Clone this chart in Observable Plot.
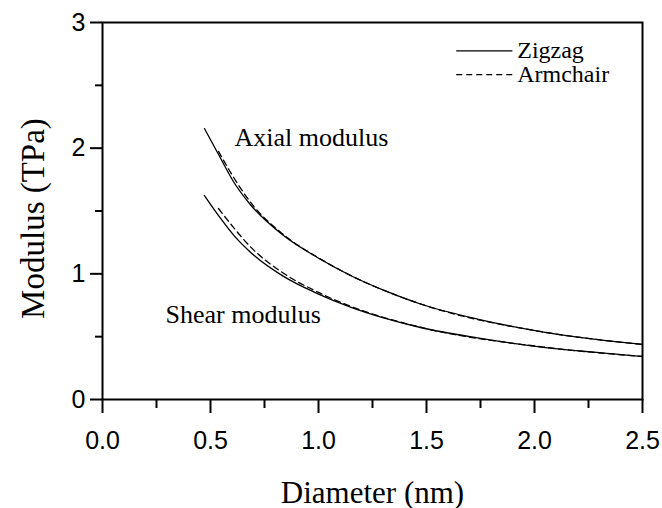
<!DOCTYPE html>
<html>
<head>
<meta charset="utf-8">
<script src="https://cdn.jsdelivr.net/npm/d3@7"></script>
<script src="https://cdn.jsdelivr.net/npm/@observablehq/plot@0.6"></script>
<style>
  html, body { margin: 0; padding: 0; background: #fff; }
  #chart g[aria-label$="tick label"] { font-size: 25px !important; font-family: "Liberation Sans", Arial, sans-serif !important; }
</style>
</head>
<body>
<div id="chart"></div>
<script>
// ---- data ----
const diameterZigzag = [0.472, 0.546, 0.606, 0.685, 0.838, 0.995, 1.148, 1.301, 1.472, 1.736, 2.042, 2.352, 2.5];
const axialZigzag    = [2.156, 1.922, 1.735, 1.550, 1.305, 1.130, 0.987, 0.870, 0.760, 0.640, 0.537, 0.465, 0.438];
const shearZigzag    = [1.623, 1.443, 1.310, 1.172, 0.980, 0.843, 0.735, 0.649, 0.573, 0.490, 0.415, 0.365, 0.342];

const diameterArmchair = [0.537, 0.606, 0.685, 0.838, 0.995, 1.148, 1.472, 2.042, 2.5];
const axialArmchair    = [1.975, 1.770, 1.570, 1.312, 1.132, 0.988, 0.761, 0.537, 0.438];
const shearArmchair    = [1.520, 1.370, 1.215, 1.005, 0.856, 0.742, 0.575, 0.417, 0.342];

const seriesNames = ["Zigzag", "Armchair"];
const curveLabels = ["Axial modulus", "Shear modulus"];
const xMajorTicks = [0, 0.5, 1.0, 1.5, 2.0, 2.5];
const xMinorTicks = [0.25, 0.75, 1.25, 1.75, 2.25];
const yMajorTicks = [0, 1, 2, 3];
const yMinorTicks = [0.5, 1.5, 2.5];
const xTitle = "Diameter (nm)";
const yTitle = "Modulus (TPa)";

// ---- tables built from the arrays ----
const rows = (ds, vs, series, kind) => ds.map((d, i) => ({d, v: vs[i], series, kind}));
const zz = [...rows(diameterZigzag, axialZigzag, "Zigzag", "Axial"), ...rows(diameterZigzag, shearZigzag, "Zigzag", "Shear")];
const ac = [...rows(diameterArmchair, axialArmchair, "Armchair", "Axial"), ...rows(diameterArmchair, shearArmchair, "Armchair", "Shear")];

// legend placement (in data units)
const legX1 = 1.64, legX2 = 1.90, legTextX = 1.92;
const legY = [2.775, 2.585];
const legend = seriesNames.map((s, i) => ({s, y: legY[i], dash: i === 0 ? null : "6,4"}));

const serif = "Liberation Serif, Times New Roman, serif";
const sans = "Liberation Sans, Arial, sans-serif";

const chart = Plot.plot({
  width: 662,
  height: 508,
  marginLeft: 102,
  marginRight: 20,
  marginTop: 22,
  marginBottom: 109,
  style: {fontFamily: sans, fontSize: "25px", color: "black", background: "white"},
  x: {domain: [0, 2.5]},
  y: {domain: [0, 3]},
  marks: [
    // axes
    Plot.axisX({ticks: xMajorTicks, tickSize: 14, tickPadding: 18, tickFormat: d3.format(".1f"), strokeWidth: 2, fontSize: 25, fontFamily: sans, label: null}),
    Plot.axisX({ticks: xMinorTicks, tickSize: 9, tickFormat: () => "", strokeWidth: 2, label: null}),
    Plot.axisY({ticks: yMajorTicks, tickSize: 12, tickPadding: 5, tickFormat: d3.format("d"), strokeWidth: 2, fontSize: 25, fontFamily: sans, label: null}),
    Plot.axisY({ticks: yMinorTicks, tickSize: 7, tickFormat: () => "", strokeWidth: 2, label: null}),
    Plot.frame({stroke: "black", strokeWidth: 2}),
    // curves
    Plot.line(zz, {x: "d", y: "v", z: "kind", stroke: "black", strokeWidth: 1.3, curve: "monotone-x"}),
    Plot.line(ac, {x: "d", y: "v", z: "kind", stroke: "black", strokeWidth: 1.3, strokeDasharray: "6,4", curve: "monotone-x"}),
    // curve annotations
    Plot.text([curveLabels[0]], {x: 0.611, y: 2.02, text: d => d, textAnchor: "start", lineAnchor: "bottom", fontFamily: serif, fontSize: 26}),
    Plot.text([curveLabels[1]], {x: 0.292, y: 0.605, text: d => d, textAnchor: "start", lineAnchor: "bottom", fontFamily: serif, fontSize: 26}),
    // legend
    Plot.ruleY(legend.filter(l => !l.dash), {y: "y", x1: legX1, x2: legX2, stroke: "black", strokeWidth: 1.3}),
    Plot.ruleY(legend.filter(l => l.dash), {y: "y", x1: legX1, x2: legX2, stroke: "black", strokeWidth: 1.3, strokeDasharray: "6,4"}),
    Plot.text(legend, {x: legTextX, y: "y", text: "s", textAnchor: "start", lineAnchor: "middle", fontFamily: serif, fontSize: 24}),
    // axis titles
    Plot.text([xTitle], {frameAnchor: "bottom", text: d => d, dy: 103, lineAnchor: "bottom", textAnchor: "middle", fontFamily: serif, fontSize: 31}),
    Plot.text([yTitle], {frameAnchor: "left", text: d => d, rotate: -90, dx: -59, dy: 7.5, lineAnchor: "bottom", textAnchor: "middle", fontFamily: serif, fontSize: 33})
  ]
});
document.getElementById("chart").appendChild(chart);
</script>
</body>
</html>
